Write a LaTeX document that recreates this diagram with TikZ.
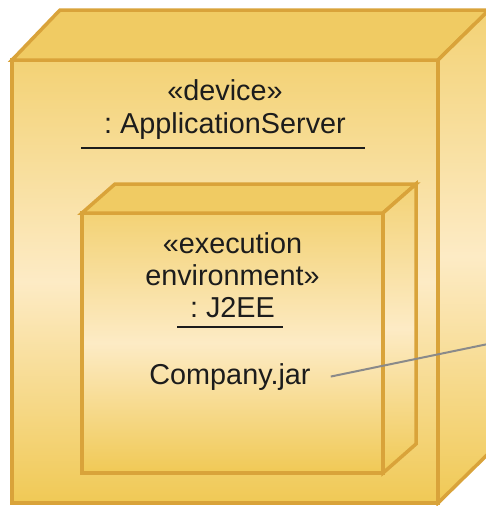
\documentclass[tikz,border=0pt]{standalone}
\usepackage{fontspec}
\setmainfont{Liberation Sans}

\definecolor{nodeline}{HTML}{D9A33A}
\definecolor{nodetop}{HTML}{F0CB63}
\definecolor{nodehigh}{HTML}{F3D275}
\definecolor{nodemid}{HTML}{FDEBC5}
\definecolor{nodelow}{HTML}{F0C955}
\definecolor{linkgray}{HTML}{8A8A8A}
\definecolor{textdark}{HTML}{1C1C1C}

\begin{document}
\begin{tikzpicture}[x=1pt,y=-1pt,
    face/.style={draw=nodeline,line width=3.5pt,top color=nodehigh,bottom color=nodelow,middle color=nodemid},
    lid/.style={draw=nodeline,line width=3.5pt,fill=nodetop},
    caption/.style={font=\fontsize{28.8}{34}\selectfont\frenchspacing,text=textdark,inner sep=0pt,anchor=base},
    underline/.style={draw=textdark,line width=2.5pt},
    connector/.style={draw=linkgray,line width=2pt}]
    % Page size fixed to the picture:
    \useasboundingbox (0,0) rectangle (485,506);

    % Device node (outer box):
    % Front face, lid and right side are drawn as separate paths
    \path [face] (12,60) rectangle (438,503);
    \path [lid]  (12,60) -- (60,10) -- (489,10) -- (438,60) -- cycle;
    \path [face] (438,60) -- (489,10) -- (489,453) -- (438,503) -- cycle;

    % Device labels:
    \node [caption] (device)    at (225,100) {«device»};
    \node [caption] (appserver) at (225,133) {: ApplicationServer};
    \draw [underline] (81,148) -- (365,148);

    % Execution environment node (inner box):
    \path [face] (82,213) rectangle (383,473);
    \path [lid]  (82,213) -- (115,184) -- (416,184) -- (383,213) -- cycle;
    \path [face] (383,213) -- (416,184) -- (416,444) -- (383,473) -- cycle;

    % Execution environment labels:
    \node [caption] (execution)   at (232.5,253) {«execution};
    \node [caption] (environment) at (232.5,285) {environment»};
    \node [caption] (jee)         at (232.5,317) {: J2EE};
    \draw [underline] (177,327) -- (283,327);

    % Artifact and its link to the right edge:
    \node [caption] (jar) at (230,384) {Company.jar};
    \coordinate (out) at (488,344);
    \draw [connector] ([xshift=20pt]jar.east) -- (out);
\end{tikzpicture}
\end{document}
